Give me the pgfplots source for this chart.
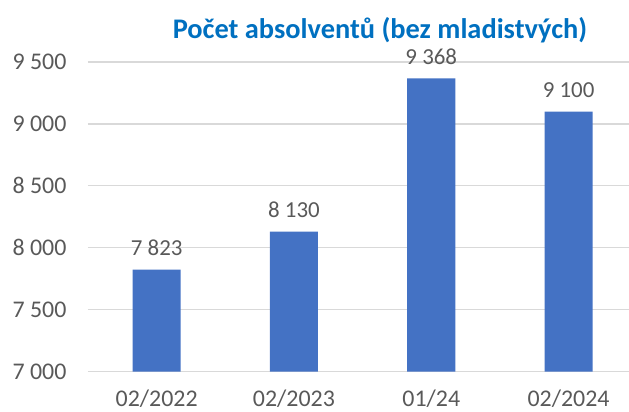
\documentclass[border=0pt]{standalone}
\usepackage{pgfplots}
\pgfplotsset{compat=1.18}
\usepackage{fontspec}
\setmainfont{Carlito}
\definecolor{barblue}{HTML}{4472C4}
\definecolor{titleblue}{HTML}{0070C0}
\definecolor{txtgray}{HTML}{595959}
\definecolor{gridgray}{HTML}{D9D9D9}
\begin{document}
\begin{tikzpicture}
\begin{axis}[
  scale only axis,
  width=541bp, height=309.5bp,
  ybar, bar width=0.35,
  xmin=-0.5, xmax=3.44,
  ymin=7000, ymax=9500,
  ytick={7000,7500,8000,8500,9000,9500},
  xtick={0,1,2,3},
  xticklabels={02/2022,02/2023,01/24,02/2024},
  /pgf/number format/assume math mode=true,
  /pgf/number format/1000 sep={\ },
  axis line style={draw=none},
  major tick length=0pt,
  ymajorgrids,
  grid style={gridgray, line width=1.3bp},
  tick label style={txtgray, font=\fontsize{24}{28}\selectfont},
  yticklabel style={xshift=-18bp},
  xticklabel style={yshift=-15bp},
  nodes near coords,
  every node near coord/.append style={txtgray, font=\fontsize{23}{27}\selectfont, yshift=10bp},
  clip=false,
]
\addplot[fill=barblue, draw=none] coordinates {(0,7823) (1,8130) (2,9368) (3,9100)};
\end{axis}
\node[titleblue, font=\bfseries\fontsize{28.5}{32}\selectfont] at ([xshift=-88bp]current axis.north west) [anchor=center, xshift=380bp, yshift=32bp] {Počet absolventů (bez mladistvých)};
\pgfresetboundingbox
\path[use as bounding box] ([xshift=-88bp,yshift=-40.5bp]current axis.south west) rectangle ([yshift=62bp]current axis.north east);
\end{tikzpicture}
\end{document}
